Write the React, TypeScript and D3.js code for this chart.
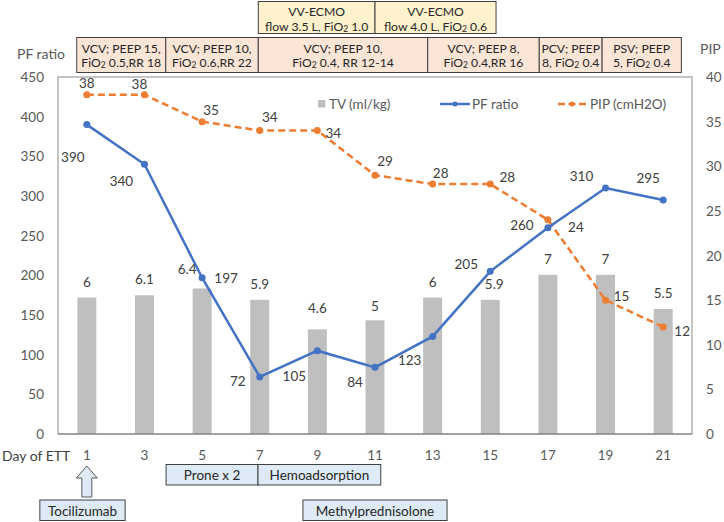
import React from 'react';
import * as d3 from 'd3';

const days = ['1', '3', '5', '7', '9', '11', '13', '15', '17', '19', '21'];
const pfRatio = [390, 340, 197, 72, 105, 84, 123, 205, 260, 310, 295];
const pip = [38, 38, 35, 34, 34, 29, 28, 28, 24, 15, 12];
const tv = [6, 6.1, 6.4, 5.9, 4.6, 5, 6, 5.9, 7, 7, 5.5];
const tvLabels = ['6', '6.1', '6.4', '5.9', '4.6', '5', '6', '5.9', '7', '7', '5.5'];
const leftTicks = [0, 50, 100, 150, 200, 250, 300, 350, 400, 450];
const rightTicks = [0, 5, 10, 15, 20, 25, 30, 35, 40];

// label offsets (layout only)
const pfLabelOff = [[-14, 32], [-23, 17], [24, 0], [-22, 4], [-23, 25], [-20, 15], [-23, 24], [-24, -7], [-26, -3], [-24, -12], [-15, -22]];
const pipLabelOff = [[0, -12], [-5, -11], [9, -12], [10, -14], [16, 2], [10, -14], [8, -11], [17, -7], [28, 7], [16, -4], [19, 4]];
const tvLabelOff = [[0, -16], [0, -16], [-15, -19], [0, -16], [0, -21], [0, -14], [0, -16], [4, -16], [0, -16], [0, -16], [0, -16]];

// annotation boxes, in day units
const ecmoBoxes = [
  { from: 6.95, to: 11.0, lines: ['VV-ECMO', 'flow 3.5 L, FiO_2 1.0'] },
  { from: 11.0, to: 15.2, lines: ['VV-ECMO', 'flow 4.0 L, FiO_2 0.6'] },
];
const ventBoxes = [
  { from: 0.65, to: 3.74, lines: ['VCV; PEEP 15,', 'FiO_2 0.5,RR 18'] },
  { from: 3.74, to: 6.95, lines: ['VCV; PEEP 10,', 'FiO_2 0.6,RR 22'] },
  { from: 6.95, to: 12.83, lines: ['VCV; PEEP 10,', 'FiO_2 0.4, RR 12-14'] },
  { from: 12.83, to: 16.7, lines: ['VCV; PEEP 8,', 'FiO_2 0.4,RR 16'] },
  { from: 16.7, to: 18.88, lines: ['PCV; PEEP', '8, FiO_2 0.4'] },
  { from: 18.88, to: 21.63, lines: ['PSV; PEEP', '5, FiO_2 0.4'] },
];
const treatRow1 = [
  { from: 3.75, to: 6.94, label: 'Prone x 2' },
  { from: 6.94, to: 11.2, label: 'Hemoadsorption' },
];
const treatRow2 = [
  { from: -0.63, to: 2.33, label: 'Tocilizumab' },
  { from: 8.5, to: 13.5, label: 'Methylprednisolone' },
];

const FONT = 'Lato, "Open Sans", sans-serif';
const BLUE = '#4472C4';
const ORANGE = '#ED7D31';
const GRAY = '#BFBFBF';
const TXT = '#595959';

function SubText({ text, x, y, size }: { text: string; x: number; y: number; size: number }) {
  const parts = text.split('_2');
  if (parts.length === 1) {
    return (
      <text x={x} y={y} textAnchor="middle" dominantBaseline="central" fontSize={size} fill="#262626" fontFamily={FONT}>
        {text}
      </text>
    );
  }
  return (
    <text x={x} y={y} textAnchor="middle" dominantBaseline="central" fontSize={size} fill="#262626" fontFamily={FONT}>
      <tspan>{parts[0]}</tspan>
      <tspan fontSize={size * 0.7} dy={3}>2</tspan>
      <tspan dy={-3}>{parts[1]}</tspan>
    </text>
  );
}

export default function App() {
  const W = 724, H = 522;
  const left = 58, right = 692, top = 77, bottom = 434;

  const x = d3.scaleBand<string>().domain(days).range([left, right]).paddingInner(0).paddingOuter(0);
  const bw = x.bandwidth();
  const cx = (d: string) => (x(d) as number) + bw / 2;
  const dayScale = d3.scaleLinear().domain([1, 21]).range([cx('1'), cx('21')]);
  const yL = d3.scaleLinear().domain([0, 450]).range([bottom, top]);
  const yR = d3.scaleLinear().domain([0, 40]).range([bottom, top]);
  const yTV = d3.scaleLinear().domain([0, 15.7]).range([bottom, top]);
  const barW = 19;

  const pfLine = d3.line<number>().x((_, i) => cx(days[i])).y((v) => yL(v))(pfRatio) as string;
  const pipLine = d3.line<number>().x((_, i) => cx(days[i])).y((v) => yR(v))(pip) as string;

  const fs = 13.5;
  const boxFs = 12.2;

  return (
    <svg width={W} height={H} style={{ position: 'absolute', left: 0, top: 0, background: '#fff' }} fontFamily={FONT}>
      <rect x={0} y={0} width={W} height={H} fill="#fff" />

      {/* top ECMO boxes */}
      {ecmoBoxes.map((b, i) => {
        const x0 = dayScale(b.from), x1 = dayScale(b.to);
        return (
          <g key={'e' + i}>
            <rect x={x0} y={1.5} width={x1 - x0} height={32} fill="#FFF2CC" stroke="#404040" strokeWidth={1} />
            <SubText text={b.lines[0]} x={(x0 + x1) / 2} y={11.5} size={boxFs} />
            <SubText text={b.lines[1]} x={(x0 + x1) / 2} y={26} size={boxFs} />
          </g>
        );
      })}
      {ventBoxes.map((b, i) => {
        const x0 = dayScale(b.from), x1 = dayScale(b.to);
        return (
          <g key={'v' + i}>
            <rect x={x0} y={37.5} width={x1 - x0} height={35} fill="#FBE5D6" stroke="#404040" strokeWidth={1} />
            <SubText text={b.lines[0]} x={(x0 + x1) / 2} y={48.5} size={boxFs} />
            <SubText text={b.lines[1]} x={(x0 + x1) / 2} y={62} size={boxFs} />
          </g>
        );
      })}

      {/* axis titles */}
      <text x={17} y={53} dominantBaseline="central" fontSize={14} fill={TXT}>PF ratio</text>
      <text x={700} y={48} dominantBaseline="central" fontSize={14} fill={TXT}>PIP</text>

      {/* bars */}
      {tv.map((v, i) => (
        <rect key={'b' + i} x={cx(days[i]) - barW / 2} y={yTV(v)} width={barW} height={bottom - yTV(v)} fill={GRAY} />
      ))}

      {/* plot border */}
      <rect x={left} y={top} width={right - left} height={bottom - top} fill="none" stroke="#8C8C8C" strokeWidth={1} />
      <line x1={left} x2={right} y1={bottom} y2={bottom} stroke="#7F7F7F" strokeWidth={1.2} />

      {/* left ticks */}
      {leftTicks.map((t) => (
        <text key={'lt' + t} x={44} y={yL(t)} textAnchor="end" dominantBaseline="central" fontSize={fs} fill={TXT}>{t}</text>
      ))}
      {rightTicks.map((t) => (
        <text key={'rt' + t} x={706} y={yR(t)} dominantBaseline="central" fontSize={fs} fill={TXT}>{t}</text>
      ))}

      {/* category labels */}
      <text x={2} y={455} dominantBaseline="central" fontSize={14} fill="#404040">Day of ETT</text>
      {days.map((d) => (
        <text key={'c' + d} x={cx(d)} y={455} textAnchor="middle" dominantBaseline="central" fontSize={fs} fill={TXT}>{d}</text>
      ))}

      {/* lines */}
      <path d={pipLine} fill="none" stroke={ORANGE} strokeWidth={2.5} strokeDasharray="7,4" />
      {pip.map((v, i) => (
        <circle key={'pp' + i} cx={cx(days[i])} cy={yR(v)} r={3.5} fill={ORANGE} />
      ))}
      <path d={pfLine} fill="none" stroke={BLUE} strokeWidth={2.5} />
      {pfRatio.map((v, i) => (
        <circle key={'pf' + i} cx={cx(days[i])} cy={yL(v)} r={3.5} fill={BLUE} />
      ))}

      {/* data labels */}
      {tv.map((v, i) => (
        <text key={'tl' + i} x={cx(days[i]) + tvLabelOff[i][0]} y={yTV(v) + tvLabelOff[i][1]} textAnchor="middle" dominantBaseline="central" fontSize={fs} fill="#404040">{tvLabels[i]}</text>
      ))}
      {pfRatio.map((v, i) => (
        <text key={'pl' + i} x={cx(days[i]) + pfLabelOff[i][0]} y={yL(v) + pfLabelOff[i][1]} textAnchor="middle" dominantBaseline="central" fontSize={fs} fill="#404040">{v}</text>
      ))}
      {pip.map((v, i) => (
        <text key={'il' + i} x={cx(days[i]) + pipLabelOff[i][0]} y={yR(v) + pipLabelOff[i][1]} textAnchor="middle" dominantBaseline="central" fontSize={fs} fill="#404040">{v}</text>
      ))}

      {/* legend */}
      <rect x={318} y={100} width={7.5} height={7.5} fill={GRAY} />
      <text x={329} y={104} dominantBaseline="central" fontSize={fs} fill={TXT}>TV (ml/kg)</text>
      <line x1={440} x2={470} y1={104} y2={104} stroke={BLUE} strokeWidth={2.5} />
      <circle cx={455} cy={104} r={2.5} fill={BLUE} />
      <text x={472} y={104} dominantBaseline="central" fontSize={fs} fill={TXT}>PF ratio</text>
      <line x1={558} x2={586} y1={104} y2={104} stroke={ORANGE} strokeWidth={2.5} strokeDasharray="7,3.5" />
      <circle cx={572} cy={104} r={2.5} fill={ORANGE} />
      <text x={590} y={104} dominantBaseline="central" fontSize={fs} fill={TXT}>PIP (cmH2O)</text>

      {/* bottom treatment boxes */}
      {treatRow1.map((b, i) => {
        const x0 = dayScale(b.from), x1 = dayScale(b.to);
        return (
          <g key={'t1' + i}>
            <rect x={x0} y={464.5} width={x1 - x0} height={20.5} fill="#DEEBF7" stroke="#404040" strokeWidth={1} />
            <text x={(x0 + x1) / 2} y={475} textAnchor="middle" dominantBaseline="central" fontSize={fs} fill="#262626">{b.label}</text>
          </g>
        );
      })}
      {treatRow2.map((b, i) => {
        const x0 = dayScale(b.from), x1 = dayScale(b.to);
        return (
          <g key={'t2' + i}>
            <rect x={x0} y={500} width={x1 - x0} height={20.5} fill="#DEEBF7" stroke="#404040" strokeWidth={1} />
            <text x={(x0 + x1) / 2} y={510.5} textAnchor="middle" dominantBaseline="central" fontSize={fs} fill="#262626">{b.label}</text>
          </g>
        );
      })}

      {/* arrow */}
      {(() => {
        const ax = cx('1');
        const pts: [number, number][] = [
          [ax, 466], [ax - 10.5, 478], [ax - 5, 478], [ax - 5, 497], [ax + 5, 497], [ax + 5, 478], [ax + 10.5, 478],
        ];
        return <path d={(d3.line()(pts) as string) + 'Z'} fill="#DEEBF7" stroke="#595959" strokeWidth={1} />;
      })()}
    </svg>
  );
}
